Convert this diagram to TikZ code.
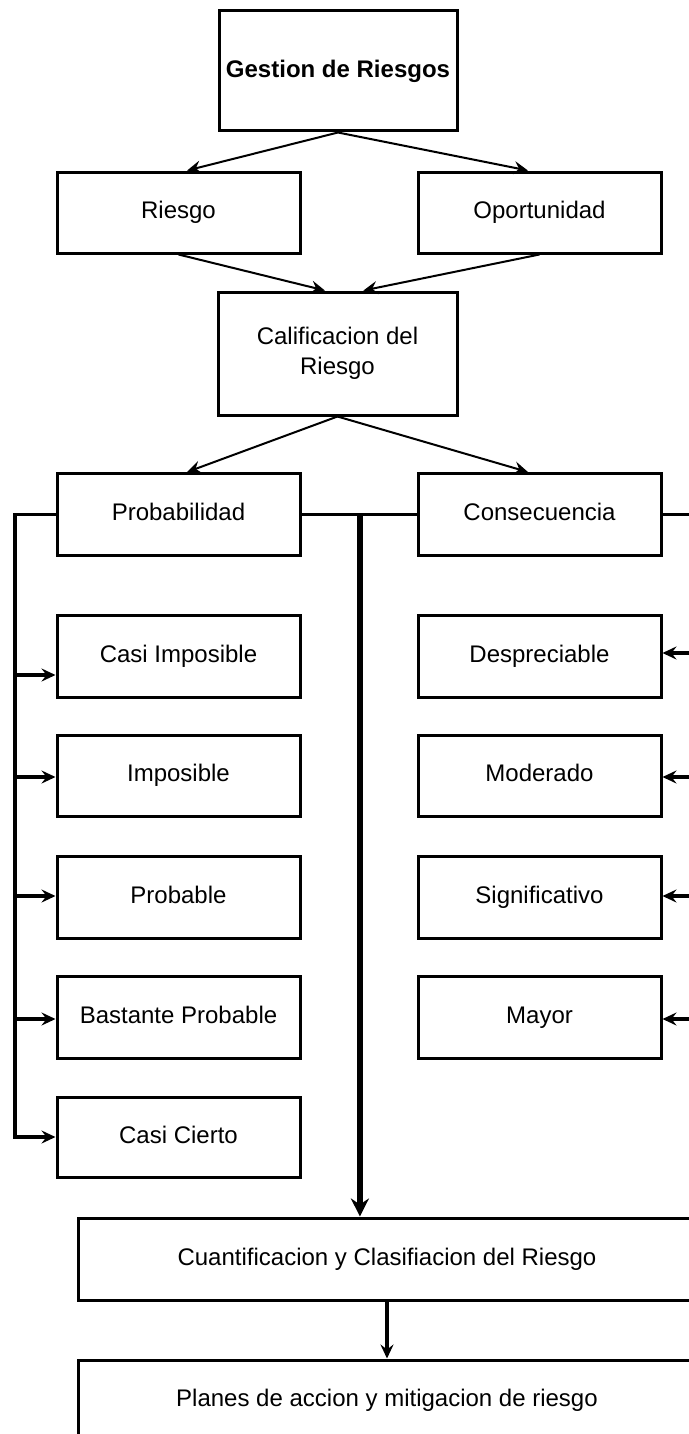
\documentclass[tikz,border=0pt]{standalone}
\usepackage{fontspec}
\setmainfont{Liberation Sans}
\usetikzlibrary{arrows.meta,calc}
\begin{document}
\begin{tikzpicture}[x=0.5pt,y=-0.5pt,
  box/.style={draw,line width=1.5pt,inner sep=0pt,align=center,
    font=\fontsize{12}{15}\selectfont},
  small/.style={box,minimum width=121.5pt,minimum height=41pt,
    text height=8.6pt,text depth=2.6pt},
  wide/.style={small,minimum width=309pt},
  diag/.style={line width=1pt,-{Stealth[length=7pt,width=6.5pt,inset=2.5pt]}},
  rail/.style={line width=1.75pt},
  branch/.style={line width=1.75pt,-{Stealth[length=7pt,width=6.5pt,inset=2.5pt]}},
  trunk/.style={line width=3pt,-{Stealth[length=9pt,width=9pt,inset=3pt]}},
]
\useasboundingbox (0,0) rectangle (689,1434);
\clip (0,0) rectangle (689,1434);

% top of the tree
\node[box,minimum width=119pt,minimum height=60pt,font=\fontsize{12}{15}\selectfont\bfseries] (gest) at (338,71) {Gestion de Riesgos};
\node[small,minimum height=40.5pt] (riesgo) at (178.5,212.5) {Riesgo};
\node[small,minimum height=40.5pt] (oport) at (539.5,212.5) {Oportunidad};
\node[box,minimum width=119.5pt,minimum height=61.5pt] (calif) at (337.5,353.5) {Calificacion del\\Riesgo};
\node[small] (prob) at (178.5,514.5) {Probabilidad};
\node[small] (cons) at (539.5,514.5) {Consecuencia};

% probability levels
\node[small] (ci) at (178.5,656) {Casi Imposible};
\node[small,minimum height=40.5pt] (imp) at (178.5,775.5) {Imposible};
\node[small] (pbl) at (178.5,897.5) {Probable};
\node[small] (bast) at (178.5,1017.5) {Bastante Probable};
\node[small,minimum height=40pt] (cierto) at (178.5,1137) {Casi Cierto};

% consequence levels
\node[small] (desp) at (539.5,656) {Despreciable};
\node[small,minimum height=40.5pt] (mod) at (539.5,775.5) {Moderado};
\node[small] (sig) at (539.5,897.5) {Significativo};
\node[small] (may) at (539.5,1017.5) {Mayor};

% bottom stages
\node[wide] (cuant) at (387,1259) {Cuantificacion y Clasifiacion del Riesgo};
\node[wide,minimum height=40pt] (plan) at (387,1400) {Planes de accion y mitigacion de riesgo};

% diagonal connectors
\draw[diag] (gest.south) -- ($(riesgo.north west)!0.535!(riesgo.north east)$);
\draw[diag] (gest.south) -- ($(oport.north west)!0.453!(oport.north east)$);
\draw[diag] (riesgo.south) -- ($(calif.north west)!0.448!(calif.north east)$);
\draw[diag] (oport.south) -- ($(calif.north west)!0.607!(calif.north east)$);
\draw[diag] (calif.south) -- ($(prob.north west)!0.535!(prob.north east)$);
\draw[diag] (calif.south) -- ($(cons.north west)!0.453!(cons.north east)$);

% left rail
\coordinate (lt) at (15,514.5);
\coordinate (l1) at (15,675);
\coordinate (l2) at (15,777);
\coordinate (l3) at (15,896);
\coordinate (l4) at (15,1019);
\draw[branch] (prob.west) -- (lt) |- (cierto.west);
\draw[branch] (l1) -- (l1 -| ci.west);
\draw[branch] (l2) -- (l2 -| imp.west);
\draw[branch] (l3) -- (l3 -| pbl.west);
\draw[branch] (l4) -- (l4 -| bast.west);

% right rail
\coordinate (rt) at (700,514.5);
\coordinate (r1) at (700,653);
\coordinate (r2) at (700,777);
\coordinate (r3) at (700,896);
\coordinate (r4) at (700,1019);
\draw[rail] (cons.east) -- (rt) -- (r4);
\draw[branch] (r1) -- (r1 -| desp.east);
\draw[branch] (r2) -- (r2 -| mod.east);
\draw[branch] (r3) -- (r3 -| sig.east);
\draw[branch] (r4) -- (r4 -| may.east);

% middle link and trunk
\draw[rail] (prob.east) -- (cons.west);
\coordinate (tj) at ($(prob.east)!0.508!(cons.west)$);
\draw[trunk] (tj) -- (tj |- cuant.north);
\draw[branch] (cuant.south) -- (plan.north);
\end{tikzpicture}
\end{document}
